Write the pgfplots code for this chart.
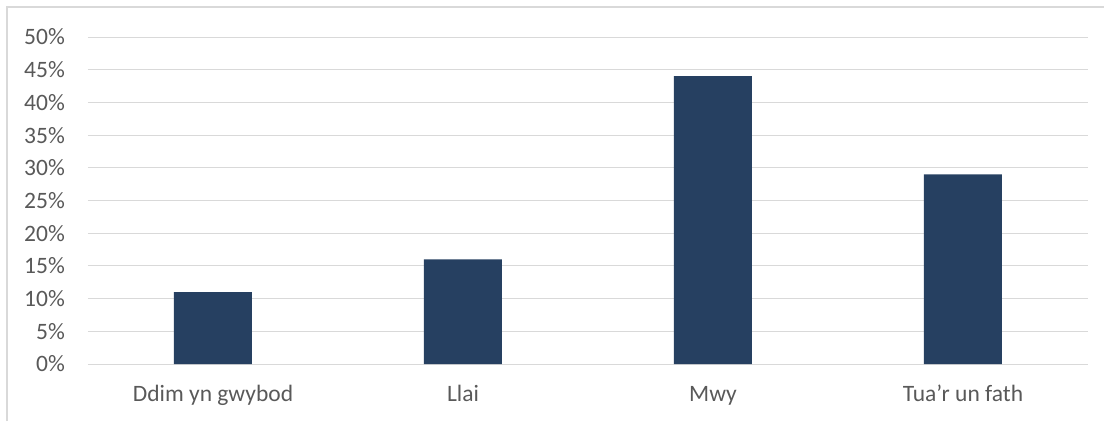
\documentclass[border=0pt]{standalone}
\usepackage{pgfplots}
\pgfplotsset{compat=1.18}
\usepackage{fontspec}
\setmainfont{Carlito}
\definecolor{barblue}{HTML}{264061}
\definecolor{gridgray}{HTML}{D9D9D9}
\definecolor{txtgray}{HTML}{595959}
\begin{document}
\begin{tikzpicture}[x=1bp,y=1bp]
\begin{axis}[
    at={(0,0)}, anchor=south west,
    scale only axis, width=1000bp, height=327bp,
    xmin=-0.5, xmax=3.5, ymin=0, ymax=50,
    axis line style={draw=none},
    ybar, bar width=78bp,
    xtick={0,1,2,3},
    xticklabels={Ddim yn gwybod, Llai, Mwy, Tua’r un fath},
    ytick={0,5,...,50},
    yticklabel={\pgfmathprintnumber{\tick}\%},
    /pgf/number format/assume math mode=true,
    major tick length=0pt,
    ymajorgrids,
    major grid style={gridgray, line width=1bp},
    tick label style={font=\fontsize{23.5bp}{28bp}\selectfont, text=txtgray, inner sep=0pt},
    x tick label style={anchor=base, yshift=-37.7bp},
    y tick label style={anchor=east, xshift=-23bp},
]
\addplot[fill=barblue, draw=none] coordinates {
    (0, 11)
    (1, 16)
    (2, 44)
    (3, 29)
};
\end{axis}
\draw[gridgray, line width=1.3bp] (-81,-57) -- (-81,357) -- (1016,357);
\pgfresetboundingbox
\useasboundingbox (-88,-57) rectangle (1016,364);
\end{tikzpicture}
\end{document}
